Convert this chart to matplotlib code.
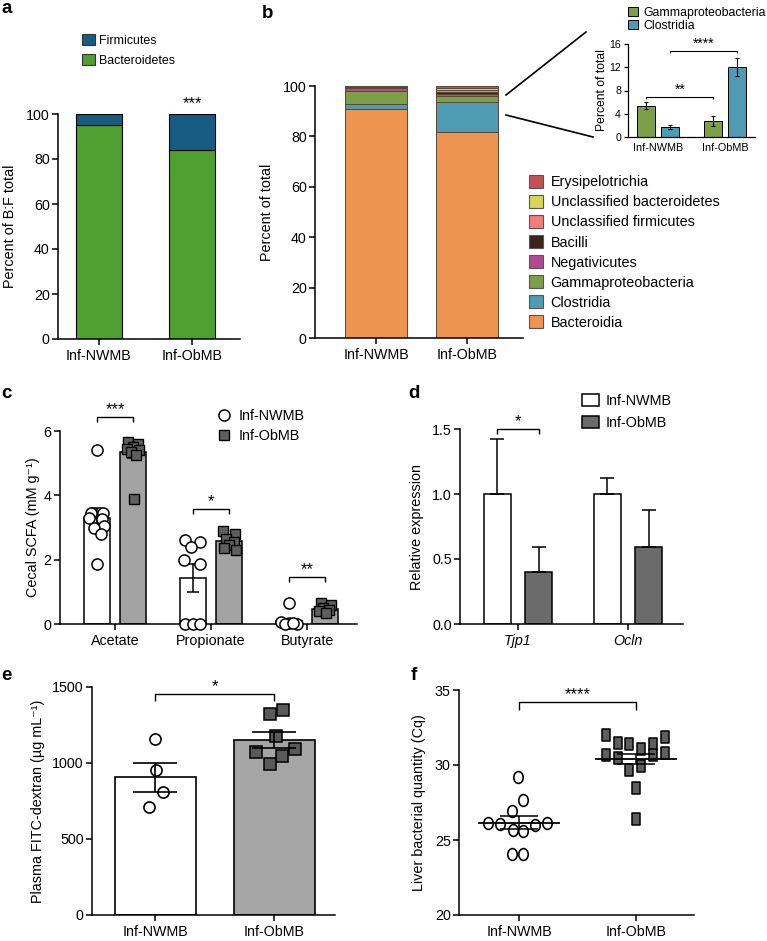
import numpy as np
import matplotlib
matplotlib.use('Agg')
import matplotlib.pyplot as plt
from matplotlib.patches import Patch
from matplotlib.lines import Line2D
from matplotlib.path import Path

plt.rcParams['font.family'] = ['Liberation Sans', 'DejaVu Sans']
plt.rcParams['axes.linewidth'] = 1.1

# ---- data ----
groups = ['Inf-NWMB', 'Inf-ObMB']

# a: phylum ratio
a_bacteroidetes = [95.3, 84.2]
a_firmicutes = [4.7, 15.8]

# b: class composition (bottom to top)
b_classes = ['Bacteroidia', 'Clostridia', 'Gammaproteobacteria', 'Negativicutes',
             'Bacilli', 'Unclassified firmicutes', 'Unclassified bacteroidetes',
             'Erysipelotrichia']
b_nwmb = [91.0, 1.7, 5.4, 1.0, 0.3, 0.4, 0.1, 0.1]
b_obmb = [81.6, 11.9, 2.5, 0.9, 0.9, 0.8, 0.7, 0.7]
b_colors = ['#ef9450', '#4f9bb4', '#7d9f48', '#b04b93', '#3b2419',
            '#f17d7d', '#d9d45a', '#c55252']

# b inset
inset_gamma = [5.4, 2.7]
inset_gamma_err = [0.6, 0.85]
inset_clos = [1.7, 12.0]
inset_clos_err = [0.4, 1.55]

# c: cecal SCFA
scfa = ['Acetate', 'Propionate', 'Butyrate']
c_nw_mean = [3.3, 1.43, 0.08]
c_nw_err = [0.3, 0.42, 0.08]
c_ob_mean = [5.35, 2.58, 0.47]
c_ob_err = [0.2, 0.1, 0.05]
c_nw_pts = [[5.4, 3.45, 3.45, 3.3, 3.25, 3.05, 3.0, 2.8, 1.85],
            [2.6, 2.55, 2.4, 2.0, 1.85, 0.0, 0.0, 0.0],
            [0.65, 0.05, 0.02, 0.0, 0.0, 0.03]]
c_nw_jit = [[0.0, -0.06, 0.07, -0.08, 0.05, 0.08, -0.03, 0.04, 0.0],
            [-0.08, 0.07, -0.02, -0.09, 0.08, -0.08, 0.0, 0.08],
            [0.0, -0.08, 0.0, 0.08, -0.04, 0.04]]
c_ob_pts = [[5.65, 5.6, 5.5, 5.45, 5.4, 5.35, 5.25, 3.9],
            [2.9, 2.8, 2.65, 2.55, 2.45, 2.35, 2.3],
            [0.65, 0.6, 0.5, 0.45, 0.4, 0.35]]
c_ob_jit = [[-0.05, 0.05, 0.0, -0.07, 0.06, -0.02, 0.03, 0.01],
            [-0.07, 0.06, -0.03, 0.05, 0.0, -0.05, 0.07],
            [-0.05, 0.06, -0.02, 0.04, -0.07, 0.01]]

# d: tight junction expression
genes = ['Tjp1', 'Ocln']
d_nw = [1.0, 1.0]
d_nw_err = [0.42, 0.12]
d_ob = [0.40, 0.59]
d_ob_err = [0.19, 0.29]

# e: FITC-dextran
e_mean = [905, 1150]
e_err = [95, 52]
e_nw_pts = [1156, 954, 811, 712]
e_nw_jit = [0.0, 0.006, 0.07, -0.05]
e_ob_pts = [1320, 1350, 1180, 1070, 1095, 1045, 995]
e_ob_jit = [-0.039, 0.07, 0.011, -0.151, 0.174, 0.064, -0.039]

# f: liver bacterial quantity
f_nw_pts = [29.2, 27.7, 26.95, 26.15, 26.1, 26.0, 26.15, 25.65, 25.6, 24.1, 24.1]
f_nw_jit = [-0.011, 0.037, -0.062, -0.262, -0.162, 0.137, 0.242, -0.054, 0.037, -0.062, 0.032]
f_nw_mean, f_nw_sem = 26.15, 0.43
f_ob_pts = [32.0, 31.45, 31.4, 31.07, 31.4, 31.85, 30.67, 30.45, 29.7, 29.95,
            30.67, 30.78, 28.45, 26.4]
f_ob_jit = [-0.259, -0.156, -0.057, 0.043, 0.143, 0.245, -0.259, -0.156, -0.057,
            0.043, 0.143, 0.245, 0.0, 0.0]
f_ob_mean, f_ob_sem = 30.4, 0.36

# ---- figure ----
W, H = 767, 941
fig = plt.figure(figsize=(W / 100, H / 100), dpi=100)


def fx(x):
    return x / W


def fy(y):
    return 1 - y / H


def px_axes(x0, x1, ytop, ybot):
    return fig.add_axes([fx(x0), fy(ybot), fx(x1 - x0), (ybot - ytop) / H])


def style(ax, lw=1.1, fs=10.3, xlen=4):
    ax.spines['top'].set_visible(False)
    ax.spines['right'].set_visible(False)
    ax.spines['left'].set_linewidth(lw)
    ax.spines['bottom'].set_linewidth(lw)
    ax.tick_params(axis='y', width=lw, length=4, labelsize=fs, pad=2)
    ax.tick_params(axis='x', width=lw, length=xlen, labelsize=fs, pad=3)


def ylabel_px(ax, text, xc, fs=10.4):
    pos = ax.get_position()
    ax.set_ylabel(text, fontsize=fs, va='center')
    ax.yaxis.set_label_coords((fx(xc) - pos.x0) / pos.width, 0.5)


def bracket(ax, x1, x2, y, h, txt, fs=12, lw=1.0):
    ax.plot([x1, x1, x2, x2], [y - h, y, y, y - h], color='k', lw=lw,
            clip_on=False, solid_capstyle='butt')
    ax.text((x1 + x2) / 2, y, txt, ha='center', va='bottom', fontsize=fs)


def panel_label(x, y, s):
    fig.text(fx(x), fy(y), s, fontsize=13.5, fontweight='bold', va='baseline')


# ---- a ----
ax = px_axes(58, 240, 114, 339)
xa = np.arange(2)
ax.bar(xa, a_bacteroidetes, 0.495, color='#4f9f31', edgecolor='k', lw=0.8)
ax.bar(xa, a_firmicutes, 0.495, bottom=a_bacteroidetes, color='#175b82',
       edgecolor='k', lw=0.8)
ax.set_xlim(-0.44, 1.516)
ax.set_ylim(0, 100)
ax.set_yticks(np.arange(0, 101, 20))
ax.set_xticks(xa)
ax.set_xticklabels(groups)
style(ax)
ylabel_px(ax, 'Percent of B:F total', 10)
ax.text(1, 101.5, '***', ha='center', va='bottom', fontsize=12)
fig.legend(handles=[Patch(facecolor='#175b82', edgecolor='#333333', lw=0.8, label='Firmicutes'),
                    Patch(facecolor='#4f9f31', edgecolor='#333333', lw=0.8, label='Bacteroidetes')],
           loc='upper left', bbox_to_anchor=(fx(82), fy(34)), frameon=False,
           fontsize=8.9, borderpad=0, borderaxespad=0, handlelength=1.05,
           handleheight=1.05, labelspacing=0.55, handletextpad=0.3)
panel_label(2, 13, 'a')

# ---- b ----
ax = px_axes(315, 523, 86, 338)
xb = np.arange(2)
vals = np.array([b_nwmb, b_obmb]).T
bottom = np.zeros(2)
for name, v, col in zip(b_classes, vals, b_colors):
    ax.bar(xb, v, 0.678, bottom=bottom, color=col, edgecolor='#5a4638', lw=0.7, label=name)
    bottom += v
ax.set_xlim(-0.667, 1.607)
ax.set_ylim(0, 100)
ax.set_yticks(np.arange(0, 101, 20))
ax.set_xticks(xb)
ax.set_xticklabels(groups)
style(ax)
ylabel_px(ax, 'Percent of total', 267)
handles = [Patch(facecolor=c, edgecolor='#555555', lw=0.8, label=n)
           for n, c in zip(b_classes, b_colors)][::-1]
fig.legend(handles=handles, loc='upper left', bbox_to_anchor=(fx(529), fy(175)),
           frameon=False, fontsize=10.4, borderpad=0, borderaxespad=0,
           handlelength=1.0, handleheight=1.0, labelspacing=0.39, handletextpad=0.5)
panel_label(262, 18, 'b')

# zoom lines
fig.add_artist(Line2D([fx(506), fx(586)], [fy(95), fy(32)], color='k', lw=1.2))
fig.add_artist(Line2D([fx(506), fx(593)], [fy(115), fy(137)], color='k', lw=1.2))

# ---- b inset ----
ax = px_axes(628, 755, 44, 137)
xi = np.arange(2)
ax.bar(xi - 0.175, inset_gamma, 0.27, yerr=inset_gamma_err, color='#7d9f48',
       edgecolor='k', lw=0.7, error_kw=dict(lw=0.8, capsize=1.5, capthick=0.8))
ax.bar(xi + 0.175, inset_clos, 0.27, yerr=inset_clos_err, color='#4f9bb4',
       edgecolor='k', lw=0.7, error_kw=dict(lw=0.8, capsize=1.5, capthick=0.8))
ax.set_xlim(-0.448, 1.448)
ax.set_ylim(0, 16)
ax.set_yticks([0, 4, 8, 12, 16])
ax.set_xticks(xi)
ax.set_xticklabels(groups)
style(ax, lw=0.9, fs=7.3, xlen=0)
ax.tick_params(axis='y', length=3, labelsize=7.6)
ax.tick_params(axis='x', labelsize=7.8, pad=4)
ylabel_px(ax, 'Percent of total', 602, fs=8.7)
bracket(ax, -0.175, 0.825, 6.9, 0.3, '**', fs=10, lw=0.8)
bracket(ax, 0.175, 1.175, 14.8, 0.3, '****', fs=10, lw=0.8)
fig.legend(handles=[Patch(facecolor='#7d9f48', edgecolor='k', lw=0.7, label='Gammaproteobacteria'),
                    Patch(facecolor='#4f9bb4', edgecolor='k', lw=0.7, label='Clostridia')],
           loc='upper left', bbox_to_anchor=(fx(628), fy(7)), frameon=False,
           fontsize=8.8, borderpad=0, borderaxespad=0, handlelength=0.85,
           handleheight=0.75, labelspacing=0.05, handletextpad=0.4)

# ---- c ----
ax = px_axes(60, 357, 431, 624)
xc = np.arange(3)
off, bw = 0.19, 0.27
ax.bar(xc - off, c_nw_mean, bw, color='white', edgecolor='k', lw=1.1, zorder=2)
ax.bar(xc + off, c_ob_mean, bw, color='#a3a3a3', edgecolor='k', lw=1.1, zorder=2)
ax.errorbar(xc - off, c_nw_mean, yerr=c_nw_err, fmt='none', ecolor='k', elinewidth=1.1,
            capsize=4, capthick=1.1, zorder=3)
ax.errorbar(xc + off, c_ob_mean, yerr=c_ob_err, fmt='none', ecolor='k', elinewidth=1.1,
            capsize=4, capthick=1.1, zorder=3)
for i in range(3):
    ax.plot(xc[i] - off + np.array(c_nw_jit[i]), c_nw_pts[i], 'o', ms=8, mfc='white',
            mec='k', mew=1.1, clip_on=False, zorder=4)
    ax.plot(xc[i] + off + np.array(c_ob_jit[i]), c_ob_pts[i], 's', ms=7.5, mfc='#5f5f5f',
            mec='k', mew=1.0, clip_on=False, zorder=4)
ax.set_xlim(-0.573, 2.52)
ax.set_ylim(0, 6)
ax.set_yticks([0, 2, 4, 6])
ax.set_xticks(xc)
ax.set_xticklabels(scfa)
style(ax)
ylabel_px(ax, 'Cecal SCFA (mM g\u207b\u00b9)', 33)
bracket(ax, -off, off, 6.43, 0.15, '***')
bracket(ax, 1 - off, 1 + off, 3.57, 0.15, '*')
bracket(ax, 2 - off, 2 + off, 1.46, 0.15, '**')
fig.legend(handles=[Line2D([], [], ls='none', marker='o', ms=8, mfc='white', mec='k', mew=1.1, label='Inf-NWMB'),
                    Line2D([], [], ls='none', marker='s', ms=7.5, mfc='#5f5f5f', mec='k', mew=1.0, label='Inf-ObMB')],
           loc='upper left', bbox_to_anchor=(fx(217), fy(409)), frameon=False,
           fontsize=10.4, borderpad=0, borderaxespad=0, handlelength=1.0,
           labelspacing=0.45, handletextpad=0.5)
panel_label(1, 398, 'c')

# ---- d ----
ax = px_axes(460, 683, 429, 624)
xd = np.arange(2)
off, bw = 0.19, 0.245
ax.bar(xd - off, d_nw, bw, color='white', edgecolor='k', lw=1.1,
       yerr=[np.zeros(2), d_nw_err], error_kw=dict(lw=1.1, capsize=5, capthick=1.1))
ax.bar(xd + off, d_ob, bw, color='#6b6b6b', edgecolor='k', lw=1.1,
       yerr=[np.zeros(2), d_ob_err], error_kw=dict(lw=1.1, capsize=5, capthick=1.1))
ax.set_xlim(-0.527, 1.5)
ax.set_ylim(0, 1.5)
ax.set_yticks([0, 0.5, 1.0, 1.5])
ax.set_yticklabels(['0.0', '0.5', '1.0', '1.5'])
ax.set_xticks(xd)
ax.set_xticklabels(genes, style='italic')
style(ax)
ylabel_px(ax, 'Relative expression', 417)
bracket(ax, -off, off, 1.5, 0.04, '*')
fig.legend(handles=[Patch(facecolor='white', edgecolor='k', lw=1.1, label='Inf-NWMB'),
                    Patch(facecolor='#6b6b6b', edgecolor='k', lw=1.1, label='Inf-ObMB')],
           loc='upper left', bbox_to_anchor=(fx(582), fy(394)), frameon=False,
           fontsize=10.4, borderpad=0, borderaxespad=0, handlelength=1.17,
           handleheight=0.82, labelspacing=0.55, handletextpad=0.5)
panel_label(408, 398, 'd')

# ---- e ----
ax = px_axes(92, 335, 687, 915)
xe = np.arange(2)
ax.bar(xe, e_mean, 0.68, color=['white', '#a6a6a6'], edgecolor='k', lw=1.2, zorder=2)
ax.plot(xe[0] + np.array(e_nw_jit), e_nw_pts, 'o', ms=8, mfc='white', mec='k', mew=1.2, zorder=3)
ax.plot(xe[1] + np.array(e_ob_jit), e_ob_pts, 's', ms=8, mfc='#5a5a5a', mec='k', mew=1.1, zorder=3)
ax.errorbar(xe, e_mean, yerr=e_err, fmt='none', ecolor='k', elinewidth=1.2,
            capsize=16, capthick=1.2, zorder=4)
ax.set_xlim(-0.53, 1.51)
ax.set_ylim(0, 1500)
ax.set_yticks([0, 500, 1000, 1500])
ax.set_xticks(xe)
ax.set_xticklabels(groups)
style(ax)
ylabel_px(ax, 'Plasma FITC-dextran (\u00b5g mL\u207b\u00b9)', 38)
bracket(ax, 0, 1, 1455, 45, '*')
panel_label(1, 680, 'e')

# ---- f ----
ell = Path.unit_circle()
ell = Path(ell.vertices * [0.8, 1.0], ell.codes)
rect = Path([(-0.38, -0.5), (0.38, -0.5), (0.38, 0.5), (-0.38, 0.5), (-0.38, -0.5)],
            [Path.MOVETO, Path.LINETO, Path.LINETO, Path.LINETO, Path.CLOSEPOLY])
ax = px_axes(459, 694, 690, 915)
xf = np.arange(2)
ax.plot(xf[0] + np.array(f_nw_jit), f_nw_pts, ls='none', marker=ell, ms=8.5,
        mfc='white', mec='k', mew=1.2, zorder=3)
ax.plot(xf[1] + np.array(f_ob_jit), f_ob_pts, ls='none', marker=rect, ms=8.5,
        mfc='#5e5e5e', mec='k', mew=1.1, zorder=3)
for x, m, s in zip(xf, [f_nw_mean, f_ob_mean], [f_nw_sem, f_ob_sem]):
    ax.plot([x - 0.34, x + 0.34], [m, m], color='k', lw=1.3, zorder=4)
    ax.errorbar(x, m, yerr=s, fmt='none', ecolor='k', elinewidth=1.1,
                capsize=14, capthick=1.1, zorder=4)
ax.set_xlim(-0.513, 1.496)
ax.set_ylim(20, 35)
ax.set_yticks([20, 25, 30, 35])
ax.set_xticks(xf)
ax.set_xticklabels(groups)
style(ax)
ylabel_px(ax, 'Liver bacterial quantity (Cq)', 419)
bracket(ax, 0, 1, 34.2, 0.5, '****')
panel_label(411, 680, 'f')

fig.savefig('out.png', dpi=100)
